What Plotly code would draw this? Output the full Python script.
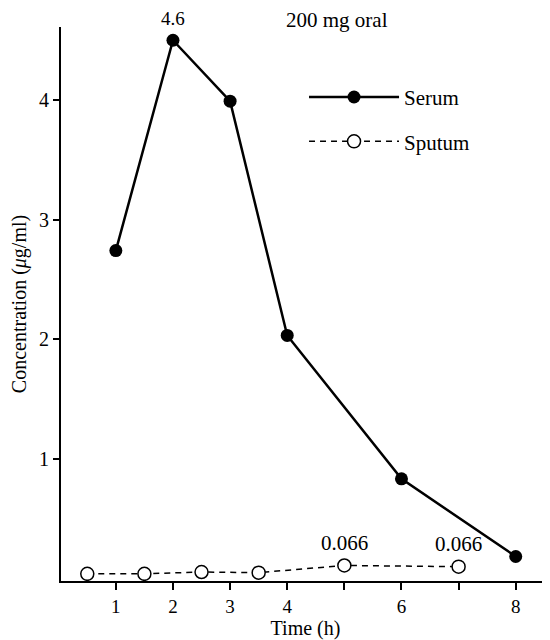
import plotly.graph_objects as go

serum_time = [1, 2, 3, 4, 6, 8]
serum_conc = [2.74, 4.5, 3.99, 2.03, 0.83, 0.18]

sputum_time = [0.5, 1.5, 2.5, 3.5, 5, 7]
sputum_conc = [0.035, 0.035, 0.05, 0.045, 0.105, 0.095]

x_tickvals = [1, 2, 3, 4, 5, 6, 7, 8]
x_ticktext = ["1", "2", "3", "4", "", "6", "", "8"]
y_tickvals = [1, 2, 3, 4]

peak_label = "4.6"
sputum_label = "0.066"

FONT = "Liberation Serif"

fig = go.Figure()
fig.add_trace(go.Scatter(
    x=serum_time, y=serum_conc, name="Serum", mode="lines+markers",
    line=dict(color="black", width=2.5),
    marker=dict(symbol="circle", size=13, color="black"),
    legendgroup="a",
))
fig.add_trace(go.Scatter(
    x=sputum_time, y=sputum_conc, name="Sputum", mode="lines+markers",
    line=dict(color="black", width=1.5, dash="6px,5px"),
    marker=dict(symbol="circle", size=13, color="white", line=dict(color="black", width=1.5)),
    legendgroup="b",
))

fig.add_annotation(x=serum_time[1], y=serum_conc[1], text=peak_label, showarrow=False,
                   yshift=22, font=dict(family=FONT, size=19, color="black"))
fig.add_annotation(x=sputum_time[4], y=sputum_conc[4], text=sputum_label, showarrow=False,
                   yshift=22, font=dict(family=FONT, size=21, color="black"))
fig.add_annotation(x=sputum_time[5], y=sputum_conc[5], text=sputum_label, showarrow=False,
                   yshift=23, font=dict(family=FONT, size=21, color="black"))
fig.add_annotation(x=0.456, y=1.012, xref="paper", yref="paper", xanchor="left", yanchor="middle",
                   text="200 mg oral", showarrow=False, font=dict(family=FONT, size=21, color="black"))

fig.update_layout(
    width=542, height=632,
    margin=dict(l=53, r=0, t=19, b=59),
    paper_bgcolor="white", plot_bgcolor="white",
    font=dict(family=FONT, size=20, color="black"),
    showlegend=True,
    legend=dict(x=0.497, y=0.91, xanchor="left", yanchor="top",
                bgcolor="rgba(0,0,0,0)", itemwidth=90, tracegroupgap=14,
                font=dict(family=FONT, size=21, color="black")),
    xaxis=dict(range=[0.04, 8.6], tickvals=x_tickvals, ticktext=x_ticktext,
               showgrid=False, zeroline=False, showline=True, linecolor="black", linewidth=2,
               ticks="outside", ticklen=7, tickwidth=1.5, tickcolor="black",
               title=dict(text="Time (h)", font=dict(family=FONT, size=20), standoff=0),
               tickfont=dict(family=FONT, size=19)),
    yaxis=dict(range=[-0.025, 4.611], tickvals=y_tickvals,
               showgrid=False, zeroline=False, showline=True, linecolor="black", linewidth=2,
               ticks="outside", ticklen=6, tickwidth=1.5, tickcolor="black",
               title=dict(text="Concentration (<i>μ</i>g/ml)", font=dict(family=FONT, size=20), standoff=14),
               tickfont=dict(family=FONT, size=20)),
)

fig.write_html("out.html")
